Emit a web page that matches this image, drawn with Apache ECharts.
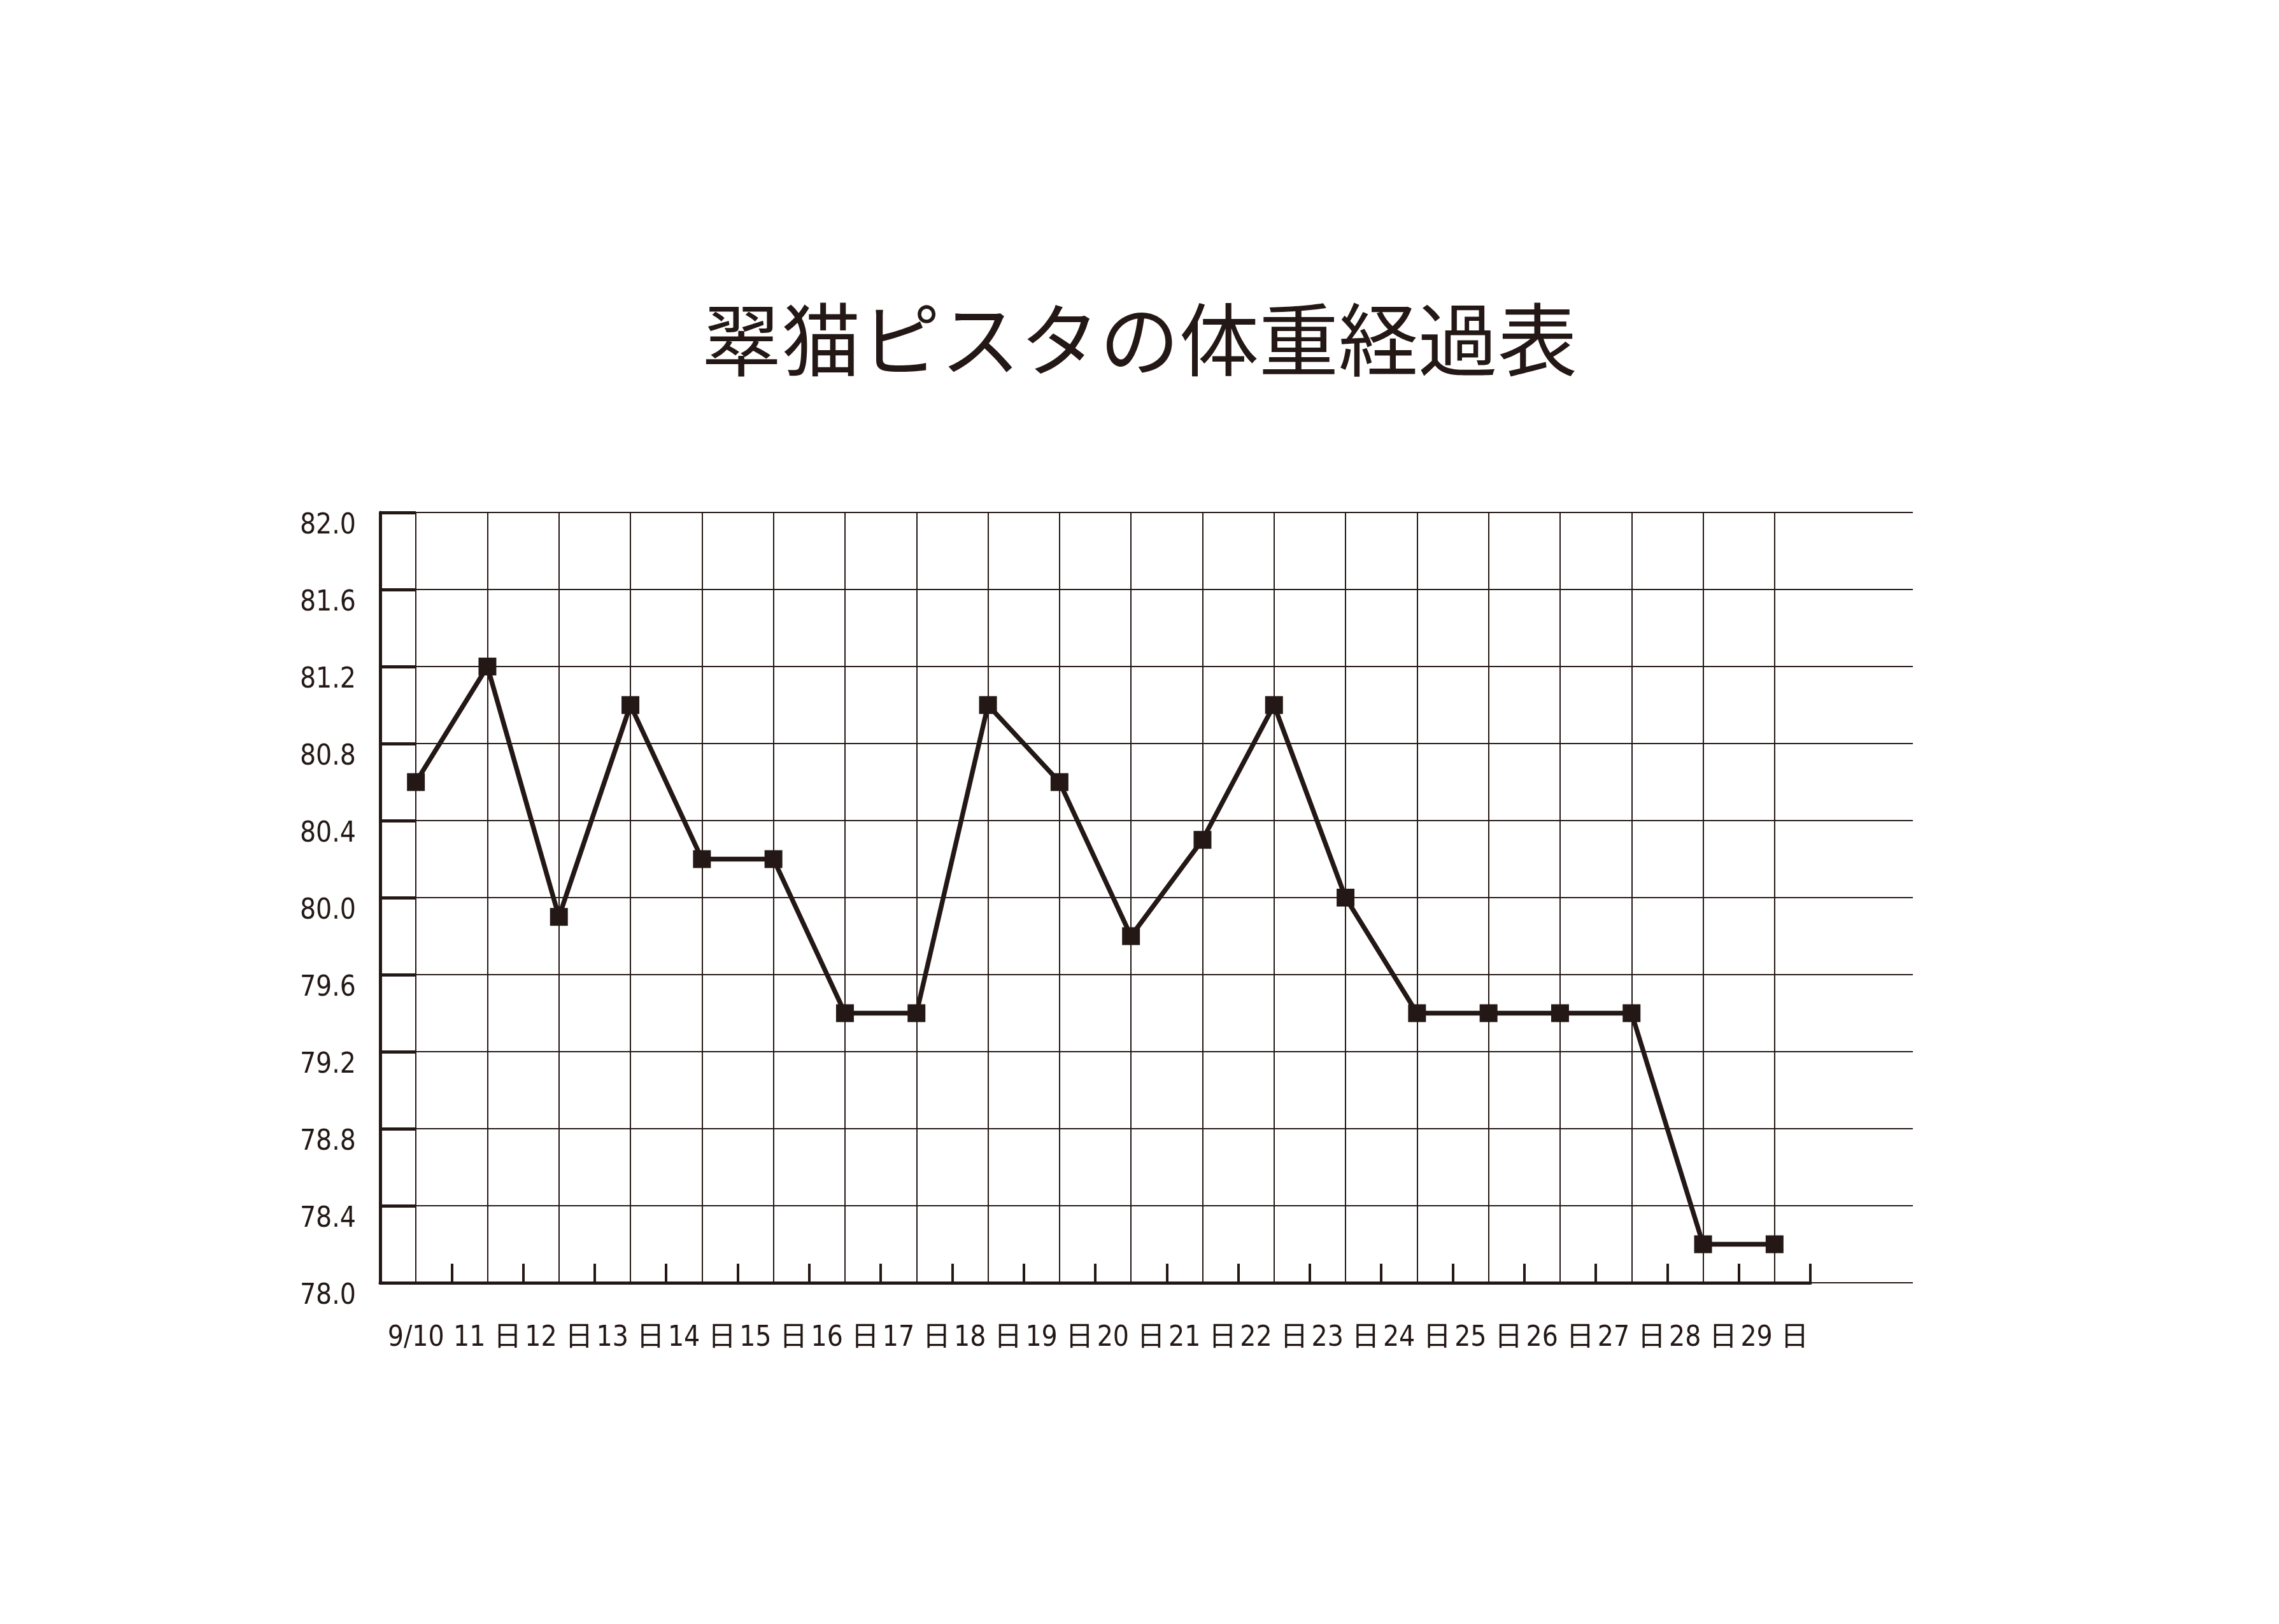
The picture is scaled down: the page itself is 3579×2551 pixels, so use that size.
<!DOCTYPE html>
<html>
<head>
<meta charset="utf-8">
<script src="https://cdn.jsdelivr.net/npm/echarts@6/dist/echarts.min.js"></script>
<style>
html,body{margin:0;padding:0;background:#fff;}
#c{width:3579px;height:2551px;}
</style>
</head>
<body>
<div id="c"></div>
<script>
const titleText = '翠猫ピスタの体重経過表';
const categories = ['9/10','11 日','12 日','13 日','14 日','15 日','16 日','17 日','18 日','19 日','20 日','21 日','22 日','23 日','24 日','25 日','26 日','27 日','28 日','29 日'];
const weights = [80.6, 81.2, 79.9, 81.0, 80.2, 80.2, 79.4, 79.4, 81.0, 80.6, 79.8, 80.3, 81.0, 80.0, 79.4, 79.4, 79.4, 79.4, 78.2, 78.2];
const yMin = 78.0, yMax = 82.0, yStep = 0.4;

const INK = '#231815';
const numFont = '"Liberation Sans Narrow", "DejaVu Sans Condensed", "Noto Sans CJK JP", sans-serif';
const chart = echarts.init(document.getElementById('c'), null, {renderer: 'canvas'});

const TOP = 805, HEIGHT = 1210;
const STEP = 112.3;
const AX_LEFT = 597;

const yBase = {type: 'value', min: yMin, max: yMax, interval: yStep};

chart.setOption({
  backgroundColor: '#ffffff',
  animation: false,
  title: {
    text: titleText,
    left: 'center',
    top: 466,
    textStyle: {fontFamily: '"Noto Sans CJK JP", sans-serif', fontSize: 125, fontWeight: 'normal', color: INK}
  },
  grid: [
    {left: AX_LEFT, top: TOP, width: 3004 - AX_LEFT, height: HEIGHT, containLabel: false},
    {left: AX_LEFT, top: TOP, width: STEP * categories.length, height: HEIGHT, containLabel: false},
    {left: AX_LEFT + STEP / 2, top: TOP, width: STEP * (categories.length - 1), height: HEIGHT, containLabel: false}
  ],
  xAxis: [
    {gridIndex: 0, type: 'category', data: categories, show: false},
    {gridIndex: 1, type: 'category', data: categories, boundaryGap: true,
     axisLine: {show: true, lineStyle: {color: INK, width: 5}},
     axisTick: {show: true, inside: true, length: 30, interval: 0, lineStyle: {color: INK, width: 4}},
     axisLabel: {show: true, interval: 0, margin: 66, fontFamily: numFont, fontSize: 44, color: INK},
     splitLine: {show: false}},
    {gridIndex: 2, type: 'category', data: categories, boundaryGap: false,
     axisLine: {show: false}, axisTick: {show: false}, axisLabel: {show: false},
     splitLine: {show: true, interval: 0, lineStyle: {color: INK, width: 2}}}
  ],
  yAxis: [
    Object.assign({}, yBase, {gridIndex: 0,
      axisLine: {show: true, lineStyle: {color: INK, width: 5}},
      axisTick: {show: true, inside: true, length: 56, lineStyle: {color: INK, width: 5}},
      axisLabel: {show: true, margin: 38, fontFamily: numFont, fontSize: 44, color: INK,
        verticalAlign: 'top',
        formatter: v => v.toFixed(1)},
      splitLine: {show: true, lineStyle: {color: INK, width: 2}}}),
    Object.assign({}, yBase, {gridIndex: 1, show: false}),
    Object.assign({}, yBase, {gridIndex: 2, show: false})
  ],
  series: [{
    type: 'line',
    xAxisIndex: 2,
    yAxisIndex: 2,
    data: weights,
    symbol: 'rect',
    symbolSize: 28,
    showAllSymbol: true,
    lineStyle: {color: INK, width: 7.5},
    itemStyle: {color: INK},
    z: 10
  }]
});
</script>
</body>
</html>
